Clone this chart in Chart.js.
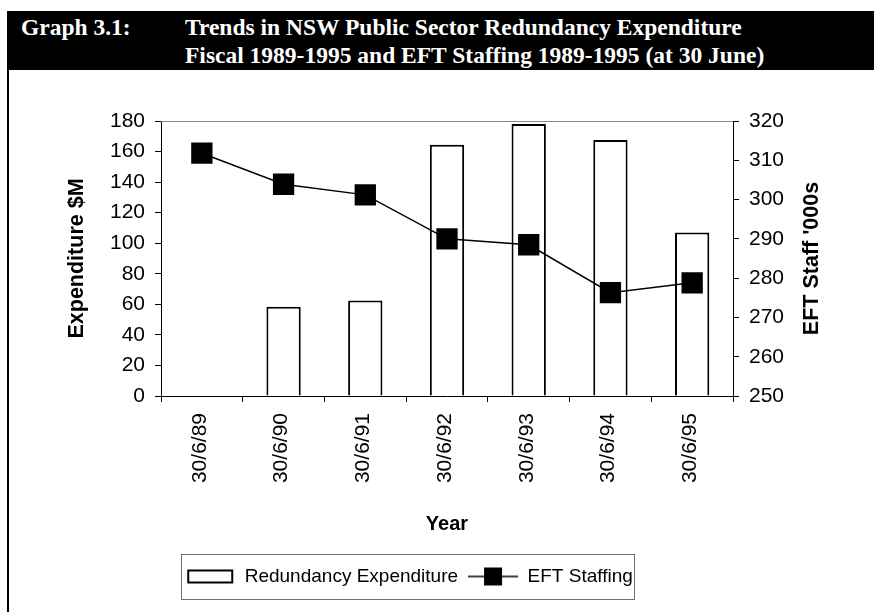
<!DOCTYPE html>
<html>
<head>
<meta charset="utf-8">
<script src="https://cdn.jsdelivr.net/npm/chart.js@4/dist/chart.umd.min.js"></script>
<style>
  body { margin: 0; background: #fff; }
  #wrap { position: relative; width: 874px; height: 612px; overflow: hidden; }
  #myChart { position: absolute; left: 0; top: 0; }
  #head {
    position: absolute; left: 7px; top: 11px; width: 867px; height: 59px;
    background: #000; color: #fff;
    font-family: "Liberation Serif", "Times New Roman", serif; font-weight: bold; font-size: 23.5px;
    line-height: 28px;
  }
  #head div { position: absolute; white-space: nowrap; }
  #edge { position: absolute; left: 7px; top: 70px; width: 2px; height: 542px; background: #000; }
</style>
</head>
<body>
<div id="wrap">
  <canvas id="myChart" width="874" height="612"></canvas>
  <div id="head">
    <div style="left:14px; top:2px;">Graph 3.1:</div>
    <div style="left:178px; top:2px;">Trends in NSW Public Sector Redundancy Expenditure</div>
    <div style="left:178px; top:30px;">Fiscal 1989-1995 and EFT Staffing 1989-1995 (at 30 June)</div>
  </div>
  <div id="edge"></div>
</div>
<script>
// データ
const years = ["30/6/89", "30/6/90", "30/6/91", "30/6/92", "30/6/93", "30/6/94", "30/6/95"];
const expenditure = [0, 58.5, 62.5, 164.5, 178, 167.5, 107];     // $M
const staffing = [311.8, 303.9, 301.2, 290.0, 288.5, 276.3, 278.8]; // '000s
const expRange = [0, 180, 20];
const staffRange = [250, 320, 10];

Chart.defaults.font.family = "'Liberation Sans', Arial, sans-serif";
Chart.defaults.color = "#000";

// 凡例のアイコン
function makeIcon(kind) {
    const c = document.createElement("canvas");
    c.width = 50; c.height = 20;
    const g = c.getContext("2d");
    if (kind === "bar") {
        g.fillStyle = "#fff";
        g.fillRect(3, 4, 44, 12);
        g.strokeStyle = "#000";
        g.lineWidth = 2;
        g.strokeRect(3, 4, 44, 12);
    } else {
        g.strokeStyle = "#000";
        g.lineWidth = 1.5;
        g.beginPath(); g.moveTo(0, 10); g.lineTo(50, 10); g.stroke();
        g.fillStyle = "#000";
        g.fillRect(16, 1, 18, 18);
    }
    return c;
}

const extras = {
    id: "extras",
    afterDraw(chart) {
        const ctx = chart.ctx;
        const a = chart.chartArea;
        ctx.save();
        // 上の枠線
        ctx.strokeStyle = "#8a8a8a";
        ctx.lineWidth = 1;
        ctx.beginPath();
        ctx.moveTo(a.left, a.top + 0.5);
        ctx.lineTo(a.right, a.top + 0.5);
        ctx.stroke();
        // 右軸タイトル (下から上へ)
        ctx.translate(812, (a.top + a.bottom) / 2);
        ctx.rotate(-Math.PI / 2);
        ctx.font = "bold 21.5px 'Liberation Sans', Arial, sans-serif";
        ctx.fillStyle = "#000";
        ctx.textAlign = "center";
        ctx.textBaseline = "middle";
        ctx.fillText("EFT Staff '000s", 0, 0);
        ctx.restore();
        // 凡例の枠
        const boxes = chart.legend.legendHitBoxes;
        if (boxes && boxes.length) {
            const l = boxes[0].left - 4;
            const last = boxes[boxes.length - 1];
            const r = last.left + last.width + 1;
            const cy = boxes[0].top + boxes[0].height / 2;
            ctx.save();
            ctx.strokeStyle = "#6e6e6e";
            ctx.lineWidth = 1;
            ctx.strokeRect(Math.round(l) + 0.5, Math.round(cy - 22.5) + 0.5, Math.round(r - l), 45);
            ctx.restore();
        }
    }
};

window.onload = function () {
    const ctx = document.getElementById("myChart").getContext("2d");
    new Chart(ctx, {
        type: "bar",
        data: {
            labels: years,
            datasets: [
                {
                    type: "line",
                    label: "EFT Staffing",
                    data: staffing,
                    yAxisID: "y2",
                    borderColor: "#000",
                    borderWidth: 1.5,
                    backgroundColor: "#000",
                    pointStyle: "rect",
                    pointRadius: 14,
                    pointBackgroundColor: "#000",
                    pointBorderColor: "#000",
                    tension: 0,
                    order: 0,
                },
                {
                    label: "Redundancy Expenditure",
                    data: expenditure,
                    yAxisID: "y",
                    backgroundColor: "#fff",
                    borderColor: "#000",
                    borderWidth: 2,
                    barPercentage: 0.42,
                    categoryPercentage: 1,
                    order: 1,
                },
            ],
        },
        options: {
            responsive: false,
            animation: false,
            layout: { padding: { top: 121, left: 0, right: 56, bottom: 16 } },
            plugins: {
                tooltip: { enabled: false },
                legend: {
                    position: "bottom",
                    labels: {
                        usePointStyle: true,
                        pointStyleWidth: 50,
                        padding: 10,
                        font: { size: 19 },
                        generateLabels: () => [
                            { text: "Redundancy Expenditure", pointStyle: makeIcon("bar"), fillStyle: "#fff", strokeStyle: "#000", lineWidth: 0, hidden: false, datasetIndex: 1, fontColor: "#000" },
                            { text: "EFT Staffing", pointStyle: makeIcon("line"), fillStyle: "#000", strokeStyle: "#000", lineWidth: 0, hidden: false, datasetIndex: 0, fontColor: "#000" },
                        ],
                    },
                },
            },
            scales: {
                x: {
                    afterFit: (s) => { s.height = 161; },
                    grid: { drawOnChartArea: false, drawTicks: true, tickLength: 6, color: "#000" },
                    border: { display: true, color: "#000", width: 1 },
                    ticks: { minRotation: 90, maxRotation: 90, padding: 11, labelOffset: -2, font: { size: 21 } },
                    title: { display: true, text: "Year", font: { size: 20, weight: "bold" }, padding: { top: 0, bottom: 21 } },
                },
                y: {
                    position: "left",
                    min: expRange[0], max: expRange[1],
                    afterFit: (s) => { s.width = 161; },
                    grid: { drawOnChartArea: false, drawTicks: true, tickLength: 6, color: "#000" },
                    border: { display: true, color: "#000", width: 1 },
                    ticks: { stepSize: expRange[2], padding: 10, font: { size: 21 } },
                    title: { display: true, text: "Expenditure $M", font: { size: 21.5, weight: "bold" }, padding: { top: 64, bottom: 0 } },
                },
                y2: {
                    position: "right",
                    min: staffRange[0], max: staffRange[1],
                    afterFit: (s) => { s.width = 85; },
                    grid: { drawOnChartArea: false, drawTicks: true, tickLength: 6, color: "#000" },
                    border: { display: true, color: "#000", width: 1 },
                    ticks: { stepSize: staffRange[2], padding: 10, font: { size: 21 } },
                },
            },
        },
        plugins: [extras],
    });
};
</script>
</body>
</html>
